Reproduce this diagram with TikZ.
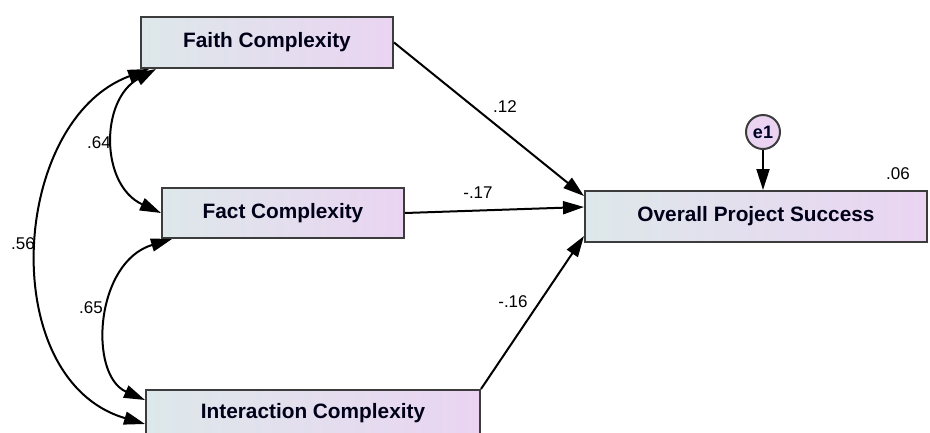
\documentclass[tikz,border=0pt]{standalone}
\usepackage{fontspec}
\setmainfont{Liberation Sans}
\usetikzlibrary{arrows.meta,calc}

\definecolor{boxleft}{HTML}{DDE8EA}
\definecolor{boxright}{HTML}{EAD4F2}
\definecolor{boxline}{HTML}{3C3C3C}

\tikzset{
  tip/.tip={Triangle[length=21pt,width=13pt]},
  varbox/.style={draw=boxline, line width=2pt, rectangle, inner sep=0pt,
    left color=boxleft, right color=boxright, text=black!90!blue,
    font=\fontsize{20.8}{25}\selectfont\bfseries},
  errcirc/.style={draw=boxline, line width=2pt, circle, inner sep=0pt,
    minimum size=34pt, fill=boxright, text=black!85!blue,
    font=\fontsize{18}{22}\selectfont\bfseries},
  coef/.style={font=\fontsize{17}{20}\selectfont, inner sep=0pt, text=black},
  path/.style={line width=2pt, -tip},
  covar/.style={line width=2pt, tip-tip}
}

\begin{document}
\begin{tikzpicture}[x=1pt,y=-1pt]
\useasboundingbox (0,0) rectangle (930,432);

% observed variables
\node[varbox, minimum width=252pt, minimum height=51pt] (faith) at (267,42.5) {Faith Complexity};
\node[varbox, minimum width=242pt, minimum height=50pt] (fact) at (283,213) {Fact Complexity};
\node[varbox, minimum width=334pt, minimum height=46pt] (inter) at (313,413) {Interaction Complexity};
\node[varbox, minimum width=342pt, minimum height=51pt] (overall) at (756,216.5) {Overall Project Success};

% error term
\node[errcirc] (e1) at (763,132) {e1};

% regression paths
\draw[path] (faith.east) -- ($(overall.north west)+(0,6)$);
\draw[path] (fact.east) -- ($(overall.west)+(0,-9.5)$);
\draw[path] (inter.north east) -- ($(overall.south west)+(0,-7)$);
\draw[path] (e1.south) -- (e1.south |- overall.north);

% covariances
\draw[covar] ($(faith.south west)+(16,0)$) .. controls (100,100) and (100,185) .. (fact.west);
\draw[covar] ($(fact.south west)+(11,0)$) .. controls (95,262) and (88,375) .. ($(inter.north west)+(0,11)$);
\draw[covar] ($(faith.south west)+(9,0)$) .. controls (10,120) and (-5,380) .. ($(inter.north west)+(0,35)$);

% coefficients
\node[coef] (c1) at (505,107) {.12};
\node[coef] (c2) at (478,193) {-.17};
\node[coef] (c3) at (513,302) {-.16};
\node[coef] (r2) at (898,174) {.06};
\node[coef] (k1) at (99,143) {.64};
\node[coef] (k2) at (23,244) {.56};
\node[coef] (k3) at (91,308) {.65};
\end{tikzpicture}
\end{document}
